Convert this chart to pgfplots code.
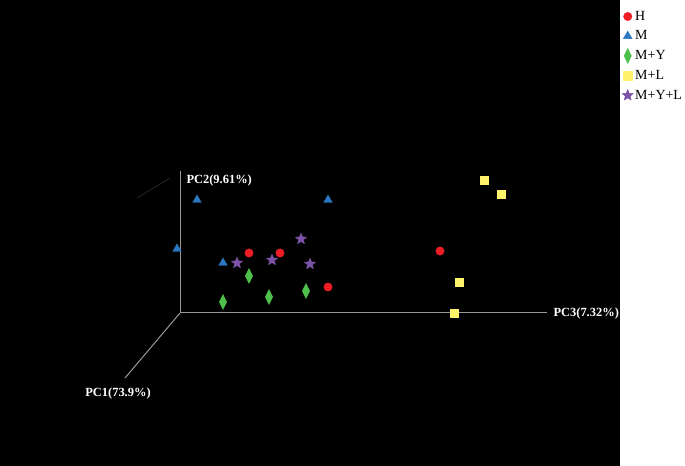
\documentclass[border=0pt]{standalone}
\usepackage{pgfplots}
\pgfplotsset{compat=1.18}
\usepackage{fontspec}
\setmainfont{Liberation Serif}
\usetikzlibrary{plotmarks}
\definecolor{cH}{HTML}{EE1C25}
\definecolor{cM}{HTML}{2A78C2}
\definecolor{cMY}{HTML}{4DBF4A}
\definecolor{cML}{HTML}{FFF36B}
\definecolor{cMYL}{HTML}{7A52A6}
% filled five point star
\pgfdeclareplotmark{fstar}{%
  \pgfpathmoveto{\pgfqpointpolar{90}{\pgfplotmarksize}}%
  \pgfpathlineto{\pgfqpointpolar{126}{0.45\pgfplotmarksize}}%
  \pgfpathlineto{\pgfqpointpolar{162}{\pgfplotmarksize}}%
  \pgfpathlineto{\pgfqpointpolar{198}{0.45\pgfplotmarksize}}%
  \pgfpathlineto{\pgfqpointpolar{234}{\pgfplotmarksize}}%
  \pgfpathlineto{\pgfqpointpolar{270}{0.45\pgfplotmarksize}}%
  \pgfpathlineto{\pgfqpointpolar{306}{\pgfplotmarksize}}%
  \pgfpathlineto{\pgfqpointpolar{342}{0.45\pgfplotmarksize}}%
  \pgfpathlineto{\pgfqpointpolar{18}{\pgfplotmarksize}}%
  \pgfpathlineto{\pgfqpointpolar{54}{0.45\pgfplotmarksize}}%
  \pgfpathclose
  \pgfusepathqfillstroke}
\begin{document}
\begin{tikzpicture}[x=1bp,y=1bp]
\useasboundingbox (0,0) rectangle (685,466);
\begin{axis}[
    scale only axis,
    width=619bp, height=466bp,
    xmin=0, xmax=619, ymin=0, ymax=466,
    y dir=reverse,
    ticks=none,
    axis line style={draw=black},
    axis background/.style={fill=black},
    clip=false,
    legend style={at={(1,1)}, anchor=north west, xshift=1bp, yshift=-7bp,
      draw=none, fill=white, font=\fontsize{14}{15}\selectfont,
      row sep=5bp, inner sep=2bp},
    legend cell align=left,
  ]
  % axes of the ordination
  \addplot[draw=gray!35!black, line width=0.6bp, forget plot] coordinates {(137,198) (170,178)};
  \addplot[draw=gray!80!white, line width=1bp, forget plot] coordinates {(180,313) (180,171)};
  \addplot[draw=gray!80!white, line width=1bp, forget plot] coordinates {(180,313) (547,313)};
  \addplot[draw=gray!80!white, line width=1bp, forget plot] coordinates {(180,313) (125,378)};

  \addplot[only marks, mark=*, mark size=4.2bp, color=cH] coordinates {
    (249,253) (280,253) (328,287) (440,251)};
  \addlegendentry{H}
  \addplot[only marks, mark=triangle*, mark size=5bp, color=cM] coordinates {
    (197,200) (328,200) (177,249) (223,263)};
  \addlegendentry{M}
  \addplot[only marks, mark=diamond*, mark size=7.5bp, color=cMY,
    mark options={xscale=0.65}] coordinates {
    (249,276) (223,302) (269,297) (306,291)};
  \addlegendentry{M+Y}
  \addplot[only marks, mark=square*, mark size=4.2bp, color=cML] coordinates {
    (484,180) (501,194) (459,282) (454,313)};
  \addlegendentry{M+L}
  \addplot[only marks, mark=fstar, mark size=5.8bp, color=cMYL] coordinates {
    (237,263) (272,260) (301,239) (310,264)};
  \addlegendentry{M+Y+L}

  \node[white, font=\fontsize{12.5}{13}\selectfont\bfseries, anchor=west] at (axis cs:183,181) {PC2(9.61\%)};
  \node[white, font=\fontsize{12.5}{13}\selectfont\bfseries, anchor=west] at (axis cs:550,314) {PC3(7.32\%)};
  \node[white, font=\fontsize{12.5}{13}\selectfont\bfseries] at (axis cs:118,394) {PC1(73.9\%)};
\end{axis}
\end{tikzpicture}
\end{document}
